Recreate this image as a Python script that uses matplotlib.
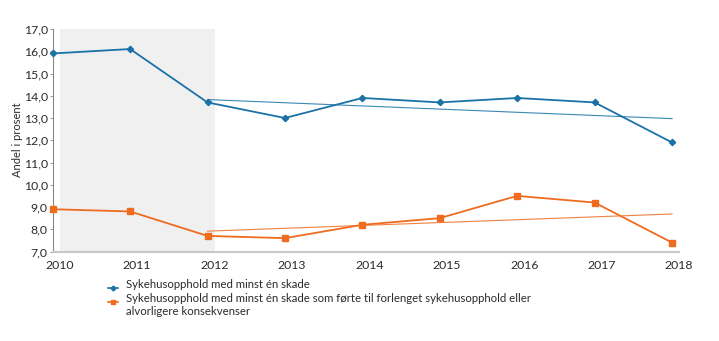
import numpy as np
import matplotlib
matplotlib.use("Agg")
import matplotlib.pyplot as plt
from matplotlib.lines import Line2D

plt.rcParams['font.family'] = ['Lato', 'DejaVu Sans']

years = [2010, 2011, 2012, 2013, 2014, 2015, 2016, 2017, 2018]
alle_skader = [15.9, 16.1, 13.7, 13.0, 13.9, 13.7, 13.9, 13.7, 11.9]
alvorlige_skader = [8.9, 8.8, 7.7, 7.6, 8.2, 8.5, 9.5, 9.2, 7.4]
y_ticks = [7.0, 8.0, 9.0, 10.0, 11.0, 12.0, 13.0, 14.0, 15.0, 16.0, 17.0]
label_alle = "Sykehusopphold med minst én skade"
label_alvorlige = ("Sykehusopphold med minst én skade som førte til forlenget sykehusopphold eller\n"
                   "alvorligere konsekvenser")
y_label = "Andel i prosent"

blue = "#1a72a6"
orange = "#ee6b1f"
text_col = "#2b2b2b"

W, H = 719, 341
fig = plt.figure(figsize=(W / 100, H / 100), dpi=100)
renderer = fig.canvas.get_renderer()


def size_for_width(text, width_px, base=10.0):
    """Font size (pt) that makes `text` about width_px pixels wide."""
    t = fig.text(0, 0, text, fontsize=base)
    w = t.get_window_extent(renderer).width
    t.remove()
    return base * width_px / w


fs_tick = size_for_width("17,0", 24)
fs_leg = size_for_width(label_alle, 185)
fs_ylab = size_for_width(y_label, 75)

left, right, top, bottom = 52.7, 679.0, 29.0, 251.5
ax = fig.add_axes([left / W, 1 - bottom / H, (right - left) / W, (bottom - top) / H])

# shaded period
ax.axvspan(2010.1, 2012.1, color="#f0f0f0", lw=0, zorder=0)

x = np.array(years, dtype=float)
ax.plot(x, alle_skader, color=blue, lw=1.3, marker="D", ms=3.2, clip_on=False, zorder=4)
ax.plot(x, alvorlige_skader, color=orange, lw=1.3, marker="s", ms=4.5, clip_on=False, zorder=4)

# linear trends from 2012 onwards
sel = x >= 2012
for vals, col in ((alle_skader, blue), (alvorlige_skader, orange)):
    v = np.array(vals)
    k, m = np.polyfit(x[sel], v[sel], 1)
    xs = np.array([2012, 2018])
    ax.plot(xs, k * xs + m, color=col, lw=0.8, alpha=0.85, zorder=3)

ax.set_xlim(2010, 2018)
ax.set_ylim(7, 17)
ax.set_yticks(y_ticks)
ax.set_yticklabels([f"{t:.1f}".replace(".", ",") for t in y_ticks], fontsize=fs_tick, color=text_col)
ax.set_xticks(x + 0.09)
ax.set_xticklabels([str(y) for y in years], fontsize=fs_tick, color=text_col)
ax.tick_params(axis="x", length=0, pad=6)
ax.tick_params(axis="y", length=2, width=0.6, color="#888888", pad=1.5)

for s in ("top", "right"):
    ax.spines[s].set_visible(False)
ax.spines["left"].set_color("#888888")
ax.spines["left"].set_linewidth(0.8)
ax.spines["bottom"].set_color("#c8c8c8")
ax.spines["bottom"].set_linewidth(1.5)

fig.text(18 / W, 1 - 140 / H, y_label, rotation=90, fontsize=fs_ylab, color=text_col,
         ha="center", va="center")

# legend entries
def legend_entry(ypix, col, marker, ms, text):
    xs = np.array([107.5, 112.5, 117.5]) / W
    ys = np.full(3, 1 - ypix / H)
    fig.add_artist(Line2D(xs, ys, color=col, lw=1.2, marker=marker, ms=ms,
                          markevery=[1], transform=fig.transFigure))
    fig.text(126.5 / W, 1 - (ypix - 8) / H, text, fontsize=fs_leg, color=text_col,
             va="top", ha="left", linespacing=1.12)

legend_entry(287.5, blue, "D", 2.5, label_alle)
legend_entry(301.5, orange, "s", 3.0, label_alvorlige)

fig.savefig("out.png", dpi=100)
